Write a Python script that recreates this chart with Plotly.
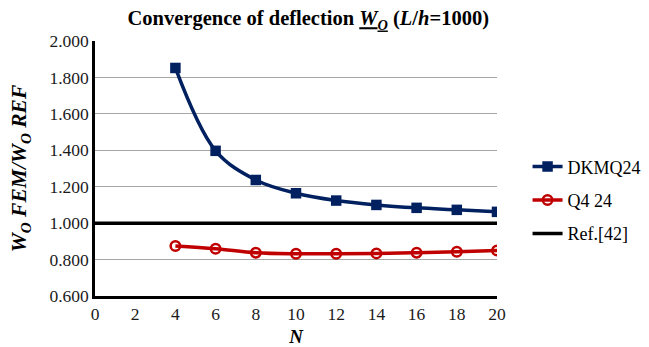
import plotly.graph_objects as go

N = [4, 6, 8, 10, 12, 14, 16, 18, 20]
dkmq24 = [1.852, 1.397, 1.237, 1.164, 1.124, 1.100, 1.084, 1.073, 1.062]
q4_24 = [0.875, 0.860, 0.838, 0.832, 0.832, 0.834, 0.838, 0.843, 0.850]
ref_x = [0, 20]
ref_y = [1.0, 1.0]

font = "Liberation Serif"

fig = go.Figure()
fig.add_trace(go.Scatter(
    x=N, y=dkmq24, name="DKMQ24", mode="lines+markers", line_shape="spline",
    legendgroup="a",
    line=dict(color="#002060", width=3.5),
    marker=dict(symbol="square", size=10.5, color="#002060")))
fig.add_trace(go.Scatter(
    x=N, y=q4_24, name="Q4 24", mode="lines+markers", line_shape="spline",
    legendgroup="b",
    line=dict(color="#C00000", width=3.5),
    marker=dict(symbol="circle-open", size=9.5, color="#C00000", line=dict(width=2.5, color="#C00000"))))
fig.add_trace(go.Scatter(
    x=ref_x, y=ref_y, name="Ref.[42]", mode="lines",
    legendgroup="c",
    line=dict(color="black", width=3.5)))

fig.update_layout(
    width=649, height=347,
    margin=dict(l=95, r=152, t=41, b=51, autoexpand=False),
    paper_bgcolor="white", plot_bgcolor="white",
    font=dict(family=font, size=17.5, color="#1a1a1a"),
    title=dict(
        text="<b>Convergence of deflection <u><i>W</i><sub><i>O</i></sub></u> (<i>L</i>/<i>h</i>=1000)</b>",
        x=0.475, xanchor="center", y=0.948, yanchor="middle",
        font=dict(family=font, size=20.5, color="black")),
    showlegend=True,
    legend=dict(x=1.076, y=0.375, xanchor="left", yanchor="middle",
                font=dict(family=font, size=18, color="black"),
                tracegroupgap=7, itemwidth=30, bgcolor="rgba(0,0,0,0)"),
    xaxis=dict(range=[0, 20], tickvals=list(range(0, 21, 2)),
               showgrid=False, zeroline=False, automargin=False,
               showline=True, linecolor="black", linewidth=2.5,
               ticks="", tickfont=dict(family=font, size=17.5, color="#1a1a1a"),
               title=dict(text="<b><i>N</i></b>", standoff=8,
                          font=dict(family=font, size=19, color="black"))),
    yaxis=dict(range=[0.6, 2.0], dtick=0.2, tickformat=".3f",
               showgrid=True, gridcolor="#A6A6A6", gridwidth=1,
               zeroline=False, showline=True, linecolor="black", linewidth=2.5,
               automargin=False,
               ticks="", tickfont=dict(family=font, size=17.5, color="#1a1a1a"),
               title=dict(text="<b><i>W<sub>O</sub> FEM/W<sub>O</sub> REF</i></b>", standoff=17,
                          font=dict(family=font, size=21.5, color="black"))),
)

fig.write_html("out.html", config={"displayModeBar": False},
               post_script="document.body.style.margin='0';")
